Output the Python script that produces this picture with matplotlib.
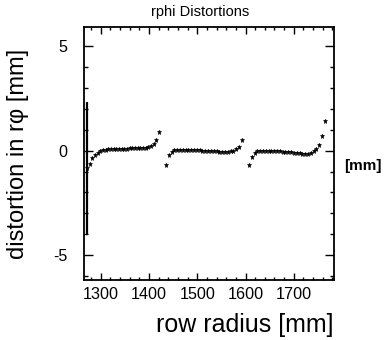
import matplotlib
matplotlib.use("Agg")
import matplotlib.pyplot as plt
from matplotlib.ticker import MultipleLocator

plt.rcParams["font.family"] = ["Liberation Sans", "DejaVu Sans"]
plt.rcParams["axes.unicode_minus"] = False

# Row radii (mm) and r-phi distortion (mm), one list per readout module
radius_1 = [1272, 1277.5, 1283, 1288.5, 1294, 1299.5, 1305, 1310.5, 1316, 1321.5,
            1327, 1332.5, 1338, 1343.5, 1349, 1354.5, 1360, 1365.5, 1371, 1376.5,
            1382, 1387.5, 1393, 1398.5, 1404, 1409.5, 1415, 1420.5]
dist_1 = [-0.84, -0.64, -0.36, -0.20, -0.10, -0.03, 0.01, 0.04, 0.06, 0.07,
          0.08, 0.09, 0.09, 0.10, 0.10, 0.10, 0.11, 0.11, 0.11, 0.12,
          0.12, 0.13, 0.15, 0.17, 0.22, 0.32, 0.49, 0.90]

radius_2 = [1435, 1441, 1447, 1452, 1458, 1464, 1470, 1476, 1481, 1487,
            1493, 1499, 1505, 1510, 1516, 1522, 1528, 1534, 1540, 1545,
            1551, 1557, 1563, 1569, 1574, 1580, 1586, 1592]
dist_2 = [-0.70, -0.22, -0.06, 0.01, 0.04, 0.05, 0.05, 0.05, 0.04, 0.04,
          0.03, 0.02, 0.01, 0.00, 0.00, -0.01, -0.02, -0.03, -0.04, -0.05,
          -0.06, -0.06, -0.05, -0.04, 0.00, 0.07, 0.16, 0.49]

radius_3 = [1607, 1613, 1619, 1624, 1630, 1636, 1642, 1648, 1653, 1659,
            1665, 1671, 1677, 1682, 1688, 1694, 1700, 1706, 1712, 1717,
            1723, 1729, 1735, 1741, 1746, 1752, 1758, 1764]
dist_3 = [-0.70, -0.32, -0.11, -0.04, -0.01, 0.00, 0.00, 0.00, -0.01, -0.02,
          -0.03, -0.04, -0.05, -0.06, -0.07, -0.08, -0.10, -0.11, -0.13, -0.15,
          -0.16, -0.15, -0.12, -0.04, 0.08, 0.27, 0.72, 1.40]

# Only the first row carries a visible error bar
err_radius = [1271.6]
err_value = [-0.84]
err_size = [3.18]

fig = plt.figure(figsize=(3.85, 3.4), dpi=100)
ax = fig.add_axes([0.218, 0.176, 0.649, 0.744])

for r, d in [(radius_1, dist_1), (radius_2, dist_2), (radius_3, dist_3)]:
    ax.plot(r, d, linestyle="none", marker="*", markersize=3.6,
            color="black", markeredgewidth=0.4)

ax.errorbar(err_radius, err_value, yerr=err_size, fmt="none",
            ecolor="black", elinewidth=1.6, capsize=0)

ax.set_xlim(1265.4, 1782.8)
ax.set_ylim(-6.2, 5.91)

ax.xaxis.set_major_locator(MultipleLocator(100))
ax.xaxis.set_minor_locator(MultipleLocator(20))
ax.yaxis.set_major_locator(MultipleLocator(5))
ax.yaxis.set_minor_locator(MultipleLocator(1))

ax.tick_params(axis="both", which="both", direction="in",
               top=True, right=True, width=1.0, labelsize=11.6, colors="black")
ax.tick_params(axis="x", which="major", length=4.8, pad=5)
ax.tick_params(axis="x", which="minor", length=2.4)
ax.tick_params(axis="y", which="major", length=6.5, pad=12)
ax.tick_params(axis="y", which="minor", length=3.2)

for spine in ax.spines.values():
    spine.set_linewidth(1.3)

ax.set_xlabel("row radius [mm]", fontsize=18, loc="right", labelpad=8)
ax.set_ylabel("distortion in rφ [mm]", fontsize=17, labelpad=17)

fig.text(0.52, 0.964, "rphi Distortions", ha="center", va="center", fontsize=10.5)
fig.text(0.895, 0.512, "[mm]", ha="left", va="center", fontsize=11,
         fontweight="bold")

fig.savefig("out.png", dpi=100)
